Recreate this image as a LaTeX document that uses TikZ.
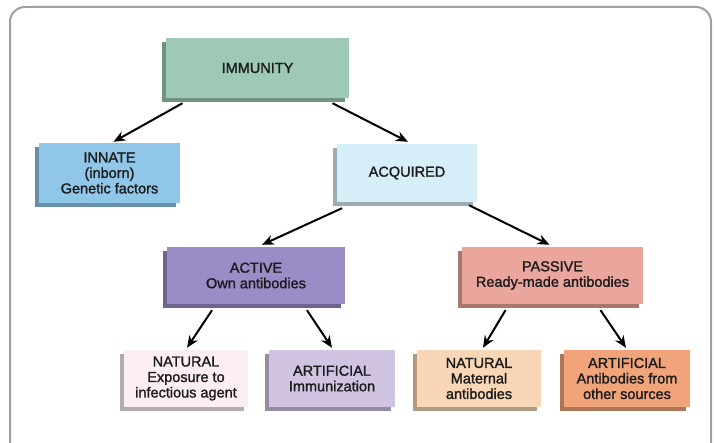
\documentclass[tikz,border=0pt]{standalone}
\usepackage{fontspec}
\setmainfont{Liberation Sans}
\newfontfamily\boxfont{Liberation Sans}[FakeBold=1.5]
\usetikzlibrary{
    arrows.meta,
    shadows,
    positioning
}

\definecolor{immgreen}{HTML}{9DC9B5}
\definecolor{innblue}{HTML}{90C7E9}
\definecolor{acqblue}{HTML}{D6EEF7}
\definecolor{actpurple}{HTML}{9B8BC6}
\definecolor{paspink}{HTML}{EAA59C}
\definecolor{natpink}{HTML}{FCEEF1}
\definecolor{artlav}{HTML}{D0C4E2}
\definecolor{natpeach}{HTML}{F9D7B6}
\definecolor{artorange}{HTML}{F1A37A}
\definecolor{framegray}{HTML}{A0A0A0}
\definecolor{textdark}{HTML}{1C1C1C}

\tikzset{
    box/.style={fill=#1, inner sep=0pt, align=center,
        text=textdark, font=\boxfont\fontsize{14.5}{15.5}\selectfont,
        drop shadow={shadow xshift=-4pt, shadow yshift=-4pt,
            fill=#1!72!black, opacity=1}},
    arr/.style={-{Stealth[length=12pt,width=10pt]}, line width=2pt, black}
}

\begin{document}
\begin{tikzpicture}[x=1pt,y=-1pt]
    \useasboundingbox (0,0) rectangle (714,443);
    \draw[framegray, line width=2pt, rounded corners=15pt] (10,7) rectangle (711,460);

    \node[box=immgreen, minimum width=183pt, minimum height=60pt] (immunity) at (257.5,68) {IMMUNITY};
    \node[box=innblue, minimum width=141pt, minimum height=60pt] (innate) at (109.5,173) {INNATE\\(inborn)\\Genetic factors};
    \node[box=acqblue, minimum width=140pt, minimum height=58pt] (acquired) at (407,173) {ACQUIRED};

    \node[box=actpurple, minimum width=178pt, minimum height=57pt] (active) at (256,275.5) {ACTIVE\\Own antibodies};
    \node[box=paspink, minimum width=181pt, minimum height=57pt] (passive) at (552.5,275.5) {PASSIVE\\Ready-made antibodies};

    \node[box=natpink, minimum width=124pt, minimum height=57pt] (nat_act) at (186,378.5) {NATURAL\\Exposure to\\infectious agent};
    \node[box=artlav, minimum width=126pt, minimum height=57pt] (art_act) at (332,378.5) {ARTIFICIAL\\Immunization};
    \node[box=natpeach, minimum width=124pt, minimum height=57pt] (nat_pas) at (479,378.5) {NATURAL\\Maternal\\antibodies};
    \node[box=artorange, minimum width=126pt, minimum height=57pt] (art_pas) at (627,378.5) {ARTIFICIAL\\Antibodies from\\other sources};

    \path[arr] ([xshift=-75pt,yshift=-5pt]immunity.south) edge ([xshift=4pt,yshift=1pt]innate.north)
               ([xshift=75pt,yshift=-5pt]immunity.south)  edge ([xshift=1pt,yshift=2pt]acquired.north)
               ([xshift=-65pt,yshift=-6pt]acquired.south) edge ([xshift=6pt,yshift=2pt]active.north)
               ([xshift=62pt,yshift=-3pt]acquired.south)  edge ([xshift=-3pt,yshift=2pt]passive.north)
               ([xshift=-44pt,yshift=-6pt]active.south)   edge ([xshift=1pt,yshift=2pt]nat_act.north)
               ([xshift=51pt,yshift=-6pt]active.south)    edge ([yshift=2pt]art_act.north)
               ([xshift=-47pt,yshift=-6pt]passive.south)  edge ([xshift=4pt,yshift=2pt]nat_pas.north)
               ([xshift=48pt,yshift=-6pt]passive.south)   edge ([xshift=-1pt,yshift=2pt]art_pas.north);
\end{tikzpicture}
\end{document}
